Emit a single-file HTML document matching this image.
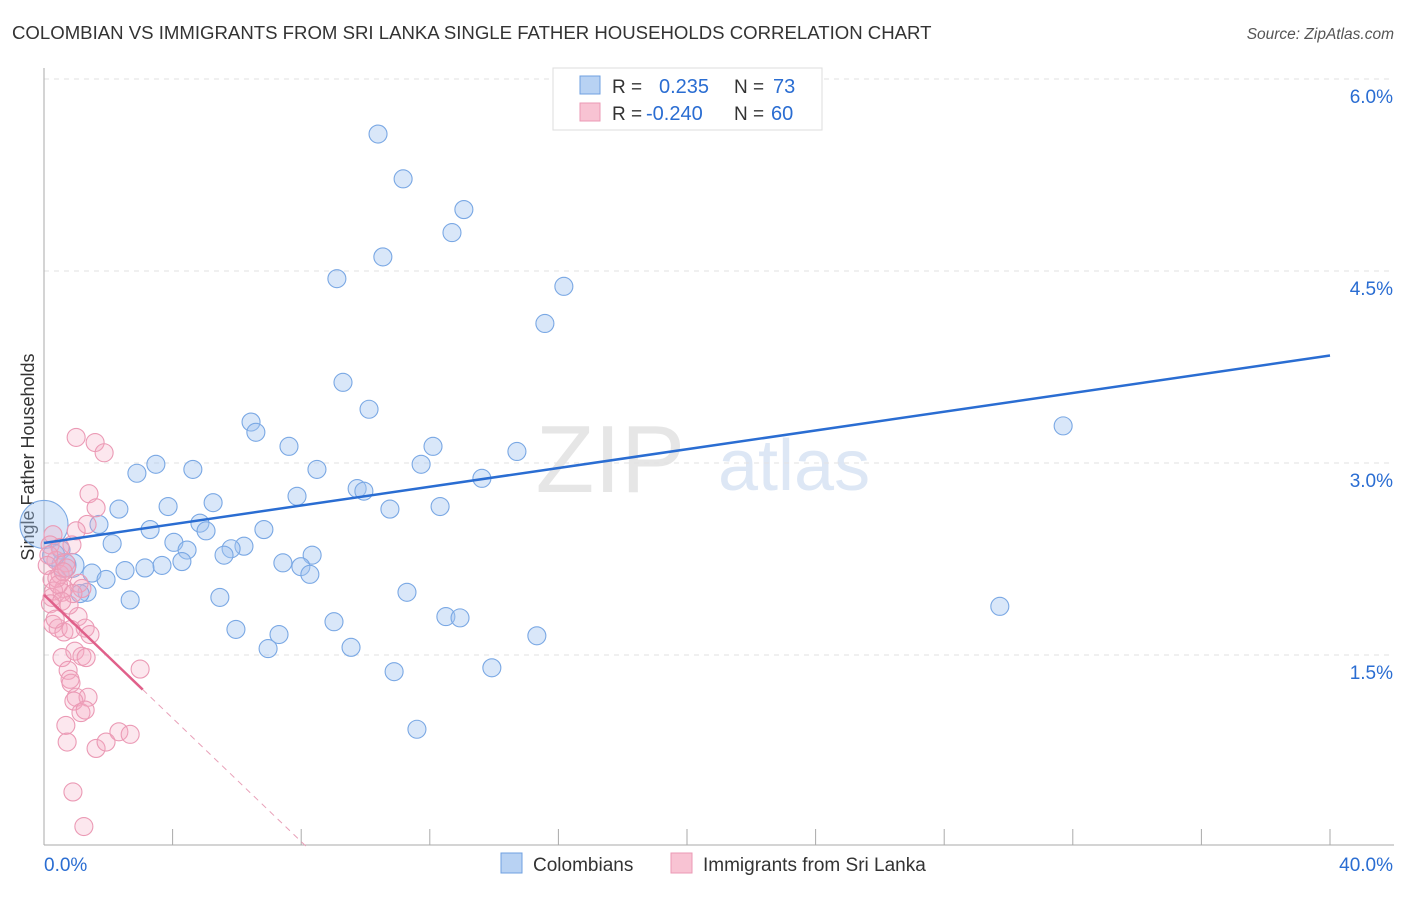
<!DOCTYPE html>
<html><head><meta charset="utf-8"><style>
body{margin:0;background:#fff;font-family:"Liberation Sans",sans-serif;}
svg text{font-family:"Liberation Sans",sans-serif;}
</style></head><body>
<svg id="chart" width="1406" height="892" xmlns="http://www.w3.org/2000/svg">
<text x="12" y="39" font-size="18.6" fill="#333">COLOMBIAN VS IMMIGRANTS FROM SRI LANKA SINGLE FATHER HOUSEHOLDS CORRELATION CHART</text>
<text x="1394" y="39" font-size="15.5" fill="#555" text-anchor="end" font-style="italic">Source: ZipAtlas.com</text>
<text x="685" y="492" font-size="96" fill="#e6e6e6" font-family="Liberation Serif" text-anchor="end">ZIP</text>
<text x="718" y="490" font-size="72" fill="#dde7f5">atlas</text>
<text transform="translate(34,457) rotate(-90)" font-size="18" fill="#333" text-anchor="middle">Single Father Households</text>
<g id="grid"></g><g id="axes"></g><g id="pts"></g><g id="lines"></g>
<g>
<rect x="553" y="68" width="269" height="62" fill="#fff" stroke="#ddd"/>
<rect x="580" y="76" width="20" height="18" fill="#b8d2f3" stroke="#6fa0e0"/>
<rect x="580" y="103" width="20" height="18" fill="#f8c3d3" stroke="#eb9ab5"/>
<text x="612" y="93" font-size="19" fill="#333">R = </text><text x="659" y="93" font-size="20" fill="#2a6dd2">0.235</text>
<text x="734" y="93" font-size="19" fill="#333">N = </text><text x="773" y="93" font-size="20" fill="#2a6dd2">73</text>
<text x="612" y="120" font-size="19" fill="#333">R = </text><text x="646" y="120" font-size="20" fill="#2a6dd2">-0.240</text>
<text x="734" y="120" font-size="19" fill="#333">N = </text><text x="771" y="120" font-size="20" fill="#2a6dd2">60</text>
</g>
<g>
<rect x="501" y="853" width="21" height="20" fill="#b8d2f3" stroke="#6fa0e0"/>
<text x="533" y="871" font-size="19" fill="#333">Colombians</text>
<rect x="671" y="853" width="21" height="20" fill="#f8c3d3" stroke="#eb9ab5"/>
<text x="703" y="871" font-size="19" fill="#333">Immigrants from Sri Lanka</text>
</g>
</svg>
<script>
const yTicks=[1.5,3.0,4.5,6.0];
const yTickLabels=["1.5%","3.0%","4.5%","6.0%"];
const xTickLabels=["0.0%","40.0%"];
const blueX=[10.39,11.17,13.06,12.69,10.54,9.11,16.17,15.58,9.30,10.11,6.44,6.59,31.70,7.62,12.10,14.71,3.48,11.73,4.63,2.89,8.49,13.62,9.74,9.95,7.87,5.26,3.86,2.33,10.76,12.32,1.71,4.85,3.30,5.04,6.84,4.04,2.12,4.45,6.22,5.82,5.60,0.53,8.34,4.29,3.67,3.14,2.52,1.49,7.43,7.99,8.27,0.87,1.93,0.62,1.34,1.12,2.68,5.47,11.29,12.50,12.94,9.02,29.73,5.97,7.31,15.33,6.97,9.55,13.93,10.89,11.60,0.0,0.3];
const blueY=[5.57,5.22,4.98,4.80,4.61,4.44,4.38,4.09,3.63,3.42,3.32,3.24,3.29,3.13,3.13,3.09,2.99,2.99,2.95,2.92,2.95,2.88,2.80,2.78,2.74,2.69,2.66,2.64,2.64,2.66,2.52,2.53,2.48,2.47,2.48,2.38,2.37,2.32,2.35,2.33,2.28,2.32,2.28,2.23,2.20,2.18,2.16,2.14,2.22,2.19,2.13,2.20,2.09,2.20,1.99,1.98,1.93,1.95,1.99,1.80,1.79,1.76,1.88,1.70,1.66,1.65,1.55,1.56,1.40,1.37,0.92,2.52,2.28];
const blueR=[9,9,9,9,9,9,9,9,9,9,9,9,9,9,9,9,9,9,9,9,9,9,9,9,9,9,9,9,9,9,9,9,9,9,9,9,9,9,9,9,9,9,9,9,9,9,9,9,9,9,9,12,9,12,9,9,9,9,9,9,9,9,9,9,9,9,9,9,9,9,9,24,11];
const pinkX=[1.00,1.59,1.87,1.40,1.62,1.34,1.00,0.87,0.28,0.19,0.37,0.68,0.50,0.25,0.62,1.09,1.18,0.25,0.56,0.78,1.06,0.28,0.44,0.62,1.28,1.43,0.84,0.56,0.96,1.18,1.31,2.99,0.75,0.81,0.84,1.00,1.37,0.93,1.15,1.28,0.68,0.72,1.62,1.93,2.33,2.68,0.90,1.24,0.5,0.15,0.4,0.3,0.7,0.2,0.9,0.45,0.35,0.6,0.1,0.55];
const pinkY=[3.20,3.16,3.08,2.76,2.65,2.52,2.47,2.36,2.44,2.36,2.24,2.22,2.13,2.09,2.02,2.06,2.02,1.95,1.99,1.89,1.80,1.74,1.71,1.68,1.71,1.66,1.70,1.48,1.53,1.49,1.48,1.39,1.38,1.31,1.28,1.17,1.17,1.14,1.05,1.07,0.95,0.82,0.77,0.82,0.90,0.88,0.43,0.16,2.34,2.28,2.10,2.00,2.18,1.90,1.98,2.05,1.78,2.15,2.20,1.92];
const blueLine=[2.375,3.84];
const pinkLine=[1.97,-0.241];
const NS="http://www.w3.org/2000/svg";
const X=v=>44+v*1286/40, Y=v=>655-(v-1.5)*128;
function mk(tag,attrs,parent){const e=document.createElementNS(NS,tag);for(const k in attrs)e.setAttribute(k,attrs[k]);document.getElementById(parent).appendChild(e);return e;}
yTicks.forEach((t,i)=>{
 const g=mk('line',{x1:44,x2:1394,y1:Y(t),y2:Y(t),stroke:'#e2e2e2','stroke-dasharray':'5,5'},'grid');
 
 
 const tx=mk('text',{x:1393,y:Y(t)+24,'font-size':19,fill:'#2a6dd2','text-anchor':'end'},'grid');
 tx.textContent=yTickLabels[i];
 
 
});
const ax=mk('line',{x1:44,x2:44,y1:68,y2:845,stroke:'#aaa'},'axes');


const bx=mk('line',{x1:44,x2:1394,y1:845,y2:845,stroke:'#aaa'},'axes');


for(let i=0;i<=10;i++){const t=mk('line',{x1:X(i*4),x2:X(i*4),y1:829,y2:845,stroke:'#aaa'},'axes');
 
 }
[[0,44,'start'],[40,1393,'end']].forEach((d,i)=>{const t=mk('text',{x:d[1],y:871,'font-size':19,fill:'#2a6dd2','text-anchor':d[2]},'axes');t.textContent=xTickLabels[i];
 
 });
blueX.forEach((v,i)=>{const c=mk('circle',{cx:X(v),cy:Y(blueY[i]),r:blueR[i],fill:'rgba(160,196,240,0.4)',stroke:'#7aa8e4','stroke-width':1.1},'pts');
 
 });
pinkX.forEach((v,i)=>{const c=mk('circle',{cx:X(v),cy:Y(pinkY[i]),r:9,fill:'rgba(244,170,195,0.28)',stroke:'#eb9ab5','stroke-width':1.1},'pts');
 
 });
const bl=mk('line',{x1:X(0),y1:Y(blueLine[0]),x2:X(40),y2:Y(blueLine[1]),stroke:'#2a6dd2','stroke-width':2.5},'lines');


const pe=3.07, pz=-pinkLine[0]/pinkLine[1];
const pl=mk('line',{x1:X(0),y1:Y(pinkLine[0]),x2:X(pe),y2:Y(pinkLine[0]+pinkLine[1]*pe),stroke:'#e0608a','stroke-width':2.5},'lines');


const pd=mk('line',{x1:X(pe),y1:Y(pinkLine[0]+pinkLine[1]*pe),x2:X(pz),y2:Y(0),stroke:'#e8a0b8','stroke-width':1,'stroke-dasharray':'6,5'},'lines');


</script>
</body></html>
